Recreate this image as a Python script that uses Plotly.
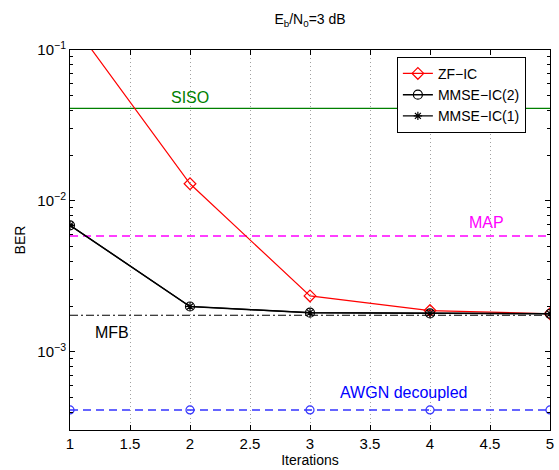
import math
import plotly.graph_objects as go

iterations = [1, 2, 3, 4, 5]
zf_ic = [0.158, 0.0130, 0.00235, 0.00188, 0.00179]
mmse_ic2 = [0.0069, 0.0020, 0.00182, 0.00180, 0.00179]
mmse_ic1 = [0.0069, 0.0020, 0.00182, 0.00180, 0.00179]
siso_ber = 0.041
map_ber = 0.00586
mfb_ber = 0.00175
awgn_ber = 0.000413

x_ticks = [1, 1.5, 2, 2.5, 3, 3.5, 4, 4.5, 5]
y_ticks = [1e-3, 1e-2, 1e-1]
y_tick_text = ["10<sup>−3</sup>", "10<sup>−2</sup>", "10<sup>−1</sup>"]

FONT = "Liberation Sans, Arial, Helvetica, sans-serif"

fig = go.Figure()

# reference lines
fig.add_trace(go.Scatter(x=[1, 5], y=[siso_ber, siso_ber], mode="lines",
                         line=dict(color="#008000", width=1.2), showlegend=False))
fig.add_trace(go.Scatter(x=[1, 5], y=[map_ber, map_ber], mode="lines",
                         line=dict(color="#ff00ff", width=1.5, dash="8px,5px"), showlegend=False))
fig.add_trace(go.Scatter(x=[1, 5], y=[mfb_ber, mfb_ber], mode="lines",
                         line=dict(color="black", width=1.2, dash="8px,3px,2px,3px"), showlegend=False))
fig.add_trace(go.Scatter(x=iterations, y=[awgn_ber] * len(iterations), mode="lines+markers",
                         line=dict(color="#3333ff", width=1.5, dash="8px,5px"),
                         marker=dict(symbol="circle-open", size=8, color="#3333ff", line=dict(width=1.2)),
                         showlegend=False))

fig.add_trace(go.Scatter(x=iterations, y=zf_ic, mode="lines+markers", name="ZF−IC",
                         line=dict(color="red", width=1.2),
                         marker=dict(symbol="diamond-open", size=9, color="red", line=dict(width=1.2))))
fig.add_trace(go.Scatter(x=iterations, y=mmse_ic2, mode="lines+markers", name="MMSE−IC(2)",
                         line=dict(color="black", width=1.5),
                         marker=dict(symbol="circle-open", size=9, color="black", line=dict(width=1.2))))
fig.add_trace(go.Scatter(x=iterations, y=mmse_ic1, mode="lines+markers", name="MMSE−IC(1)",
                         line=dict(color="black", width=1.2),
                         marker=dict(symbol="asterisk-open", size=7, color="black", line=dict(width=1.2))))

annots = [
    dict(x=2.0, y=siso_ber, text="SISO", color="#008000", yshift=11),
    dict(x=4.47, y=map_ber, text="MAP", color="#ff00ff", yshift=14),
    dict(x=1.35, y=mfb_ber, text="MFB", color="black", yshift=-17),
    dict(x=3.78, y=awgn_ber, text="AWGN decoupled", color="#0000ff", yshift=17),
]
for a in annots:
    fig.add_annotation(x=a["x"], y=math.log10(a["y"]), yref="y", xref="x",
                       text=a["text"], showarrow=False, yshift=a["yshift"],
                       font=dict(color=a["color"], size=16, family=FONT))

minor_vals = [m * 10 ** e for e in (-4, -3, -2) for m in range(2, 10)]

fig.update_layout(
    width=559, height=470,
    margin=dict(l=70, r=9, t=50, b=40),
    paper_bgcolor="white", plot_bgcolor="white",
    font=dict(family=FONT, size=14, color="black"),
    title=dict(text="E<sub>b</sub>/N<sub>0</sub>=3 dB", x=310 / 559, xanchor="center",
               y=1 - 19 / 470, yanchor="middle", font=dict(size=14)),
    legend=dict(x=0.681, y=0.982, xanchor="left", yanchor="top",
                bordercolor="black", borderwidth=1, bgcolor="white",
                font=dict(size=14), tracegroupgap=0, itemwidth=30),
    xaxis=dict(range=[1, 5], tickvals=x_ticks, ticktext=[str(v) for v in x_ticks],
               showline=True, linecolor="black", linewidth=1, mirror="ticks",
               ticks="inside", ticklen=5, tickcolor="black", automargin=False,
               showgrid=True, gridcolor="#a0a0a0", griddash="1px,3px", gridwidth=1,
               zeroline=False, tickfont=dict(size=15),
               title=dict(text="Iterations", standoff=2, font=dict(size=14))),
    yaxis=dict(type="log", range=[-3.517, -1], tickvals=y_ticks, ticktext=y_tick_text,
               showline=True, linecolor="black", linewidth=1, mirror="ticks",
               ticks="inside", ticklen=5, tickcolor="black", automargin=False,
               showgrid=False, zeroline=False, tickfont=dict(size=15),
               minor=dict(tickvals=minor_vals, ticks="inside", ticklen=3, tickcolor="black", showgrid=False),
               title=dict(text="BER", standoff=8, font=dict(size=14))),
)

fig.write_html("out.html", config={"displayModeBar": False},
               post_script="document.body.style.margin='0';")
